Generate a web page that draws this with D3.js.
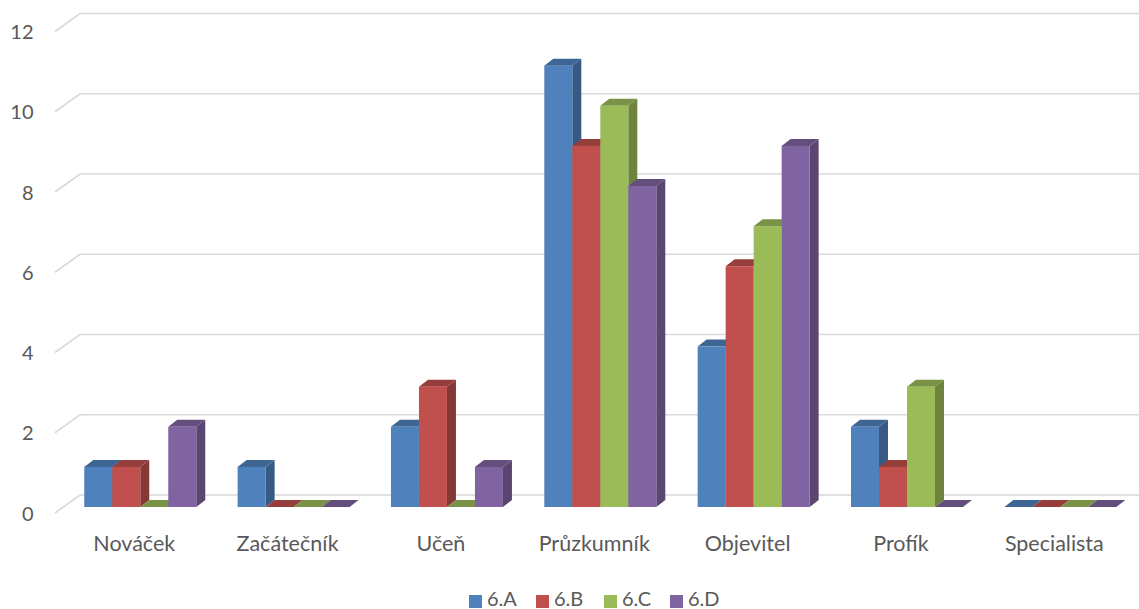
<!DOCTYPE html>
<html>
<head>
<meta charset="utf-8">
<script src="https://cdn.jsdelivr.net/npm/d3@7"></script>
<style>
  body { margin: 0; background: #fff; }
  svg { display: block; font-family: Lato, "Open Sans", sans-serif; }
</style>
</head>
<body>
<svg id="chart" width="1139" height="609"></svg>
<script>
'use strict';

// data
const categories = ["Nováček", "Začátečník", "Učeň", "Průzkumník", "Objevitel", "Profík", "Specialista"];
const seriesNames = ["6.A", "6.B", "6.C", "6.D"];
const seriesColors = ["#4F81BD", "#C0504D", "#9BBB59", "#8064A2"];
const valuesA = [1, 1, 2, 11, 4, 2, 0];
const valuesB = [1, 0, 3, 9, 6, 1, 0];
const valuesC = [0, 0, 0, 10, 7, 3, 0];
const valuesD = [2, 0, 1, 8, 9, 0, 0];
const yTicks = [0, 2, 4, 6, 8, 10, 12];

const series = [valuesA, valuesB, valuesC, valuesD];

const svg = d3.select("#chart");

// layout
const wallDx = 25, wallDy = -18;   // depth of the plot box
const backOffset = -12;            // back wall below bar base
const barDx = 9, barDy = -7;       // depth of a column

const y = d3.scaleLinear().domain([0, 12]).range([507, 25.5]);
const x0 = d3.scaleBand().domain(categories).range([63.6, 1137]).paddingInner(0).paddingOuter(0);
const barW = 28;
const x1 = d3.scaleBand().domain(seriesNames).range([0, barW * 4]);

// gridlines (front edge slanting back to the wall)
const grid = svg.append("g");
yTicks.forEach(t => {
  const yb = y(t) + backOffset;
  const yf = yb - wallDy;
  grid.append("path")
    .attr("d", `M55,${yf}L${55 + wallDx},${yb}L1139,${yb}`)
    .attr("fill", "none")
    .attr("stroke", "#d9d9d9")
    .attr("stroke-width", 1.6);
  svg.append("text")
    .attr("x", 33.5)
    .attr("y", yf + 7.5)
    .attr("text-anchor", "end")
    .attr("fill", "#595959")
    .style("font-size", "20px")
    .text(t);
});

// columns
const bars = svg.append("g");
categories.forEach((c, ci) => {
  const gx = x0(c) + (x0.bandwidth() - barW * 4) / 2;
  seriesNames.forEach((s, si) => {
    const v = series[si][ci];
    const base = d3.color(seriesColors[si]);
    const xl = gx + x1(s), xr = xl + barW;
    const yt = y(v), yb = y(0);
    const g = bars.append("g");
    // side
    if (v > 0) {
      g.append("path")
        .attr("d", `M${xr},${yt}L${xr + barDx},${yt + barDy}L${xr + barDx},${yb + barDy}L${xr},${yb}Z`)
        .attr("fill", d3.rgb(base.r * 0.7, base.g * 0.7, base.b * 0.7));
    }
    // top
    g.append("path")
      .attr("d", `M${xl},${yt}L${xl + barDx},${yt + barDy}L${xr + barDx},${yt + barDy}L${xr},${yt}Z`)
      .attr("fill", d3.rgb(base.r * 0.78, base.g * 0.78, base.b * 0.78));
    // front
    if (v > 0) {
      g.append("rect")
        .attr("x", xl).attr("y", yt)
        .attr("width", barW).attr("height", yb - yt)
        .attr("fill", base);
    }
  });
  svg.append("text")
    .attr("x", x0(c) + x0.bandwidth() / 2 - 6)
    .attr("y", 551)
    .attr("text-anchor", "middle")
    .attr("fill", "#595959")
    .style("font-size", "21.5px")
    .text(c);
});

// legend
const legendX = [469, 536, 604, 670];
const legend = svg.append("g");
seriesNames.forEach((s, i) => {
  legend.append("rect")
    .attr("x", legendX[i]).attr("y", 595)
    .attr("width", 13).attr("height", 13)
    .attr("fill", seriesColors[i]);
  legend.append("text")
    .attr("x", legendX[i] + 18)
    .attr("y", 606)
    .attr("fill", "#595959")
    .style("font-size", "20px")
    .text(s);
});
</script>
</body>
</html>
